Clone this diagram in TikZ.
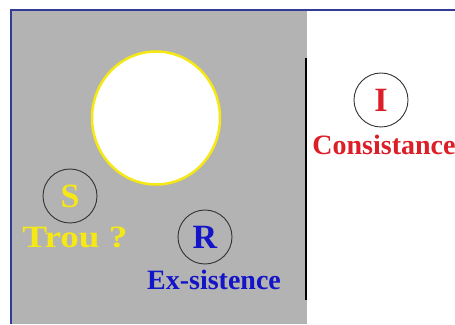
\documentclass[tikz,border=0pt]{standalone}
\usepackage{fontspec}
\setmainfont{Liberation Serif}
\usetikzlibrary{shapes.geometric}
\definecolor{bgray}{RGB}{179,179,179}
\definecolor{frameblue}{RGB}{50,60,150}
\definecolor{ylw}{RGB}{245,232,20}
\definecolor{tblue}{RGB}{20,20,200}
\definecolor{tred}{RGB}{220,30,40}
\tikzset{
  ring/.style={circle,draw=black!80,line width=0.9pt,minimum size=54pt,inner sep=0pt},
  letter/.style={font=\bfseries\fontsize{34}{34}\selectfont},
  lab/.style={font=\bfseries\fontsize{28}{28}\selectfont,inner sep=0pt}
}
\begin{document}
\begin{tikzpicture}[x=1pt,y=1pt]
\useasboundingbox (0,0) rectangle (455,324);
\fill[white] (0,0) rectangle (455,324);
% gray area
\fill[bgray] (11,0) rectangle (307,313);
% frame
\draw[frameblue,line width=2.5pt] (10,314) -- (455,314);
\draw[frameblue,line width=2.5pt] (11,0) -- (11,315);
% black bar
\coordinate (bt) at (306,266);
\coordinate (bb) at (306,24);
\draw[black,line width=2.2pt] (bt) -- (bb);
% yellow disc
\node[ellipse,fill=white,draw=ylw,line width=2.5pt,minimum width=128pt,minimum height=133pt,inner sep=0pt] (hole) at (156,206) {};
% S
\node[ring] (S) at (70,128) {};
\node[letter,text=ylw] (Sl) at (70,128) {S};
\node[lab,text=ylw,font=\bfseries\fontsize{31}{31}\selectfont,xscale=1.2] (trou) at (75,87) {Trou ?};
% R
\node[ring] (R) at (205,87) {};
\node[letter,text=tblue] (Rl) at (205,87) {R};
\node[lab,text=tblue] (ex) at (214,44) {Ex-sistence};
% I
\node[ring] (I) at (381,224) {};
\node[letter,text=tred] (Il) at (381,224) {I};
\node[lab,text=tred] (cons) at (384,179) {Consistance};
\end{tikzpicture}
\end{document}
